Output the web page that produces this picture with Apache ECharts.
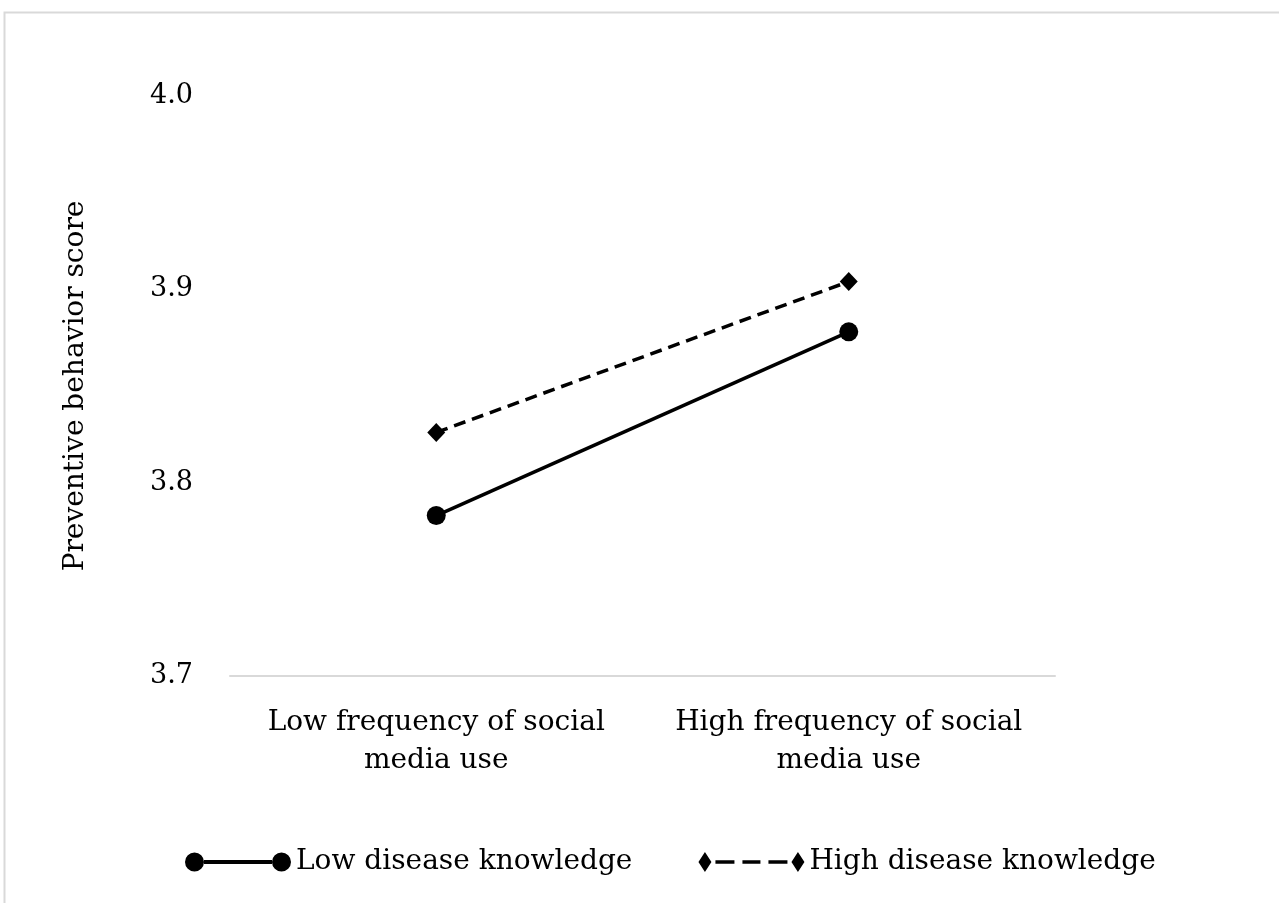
<!DOCTYPE html>
<html>
<head>
    <meta charset="utf-8">
    <title>Simple slope</title>
    <script src="https://cdn.jsdelivr.net/npm/echarts@6/dist/echarts.min.js"></script>
    <style>
        html, body { margin: 0; padding: 0; background: #fff; }
        #main { width: 1279px; height: 903px; }
    </style>
</head>
<body>
    <div id="main"></div>
    <script type="text/javascript">
        // categories on the x axis
        var categories = ['Low frequency of social\nmedia use', 'High frequency of social\nmedia use'];
        // series values
        var lowKnowledge = [3.783, 3.878];
        var highKnowledge = [3.826, 3.904];
        var seriesNames = ['Low disease knowledge', 'High disease knowledge'];
        var yTicks = [3.7, 3.8, 3.9, 4.0];

        var FONT = 'DejaVu Serif';

        // legend icons: marker - line - marker (106 x 20)
        var iconCircles = 'path://M0 10A9.5 9.5 0 1 0 19 10A9.5 9.5 0 1 0 0 10Z' +
            'M87 10A9.5 9.5 0 1 0 106 10A9.5 9.5 0 1 0 87 10Z' +
            'M19 8L87 8L87 12L19 12Z';
        var iconDiamonds = 'path://M0 10L6.5 0L13 10L6.5 20Z M93 10L99.5 0L106 10L99.5 20Z' +
            'M17 8.2L36 8.2L36 11.8L17 11.8Z' +
            'M44 8.2L62 8.2L62 11.8L44 11.8Z' +
            'M70 8.2L89 8.2L89 11.8L70 11.8Z';

        var chart = echarts.init(document.getElementById('main'), null, { renderer: 'canvas' });

        var option = {
            animation: false,
            backgroundColor: '#fff',
            textStyle: { fontFamily: FONT, color: '#000' },
            graphic: [{
                type: 'rect',
                shape: { x: 4.5, y: 12.5, width: 1300, height: 1000 },
                style: { fill: 'none', stroke: '#d9d9d9', lineWidth: 2 },
                silent: true
            }],
            grid: { left: 230, right: 224, top: 96, bottom: 227 },
            xAxis: {
                type: 'category',
                data: categories,
                boundaryGap: true,
                axisLine: { lineStyle: { color: '#d9d9d9', width: 2 } },
                axisTick: { show: false },
                axisLabel: {
                    fontFamily: FONT, fontSize: 28, color: '#000',
                    lineHeight: 38, margin: 28, interval: 0
                }
            },
            yAxis: {
                type: 'value',
                min: yTicks[0],
                max: yTicks[yTicks.length - 1],
                interval: 0.1,
                name: 'Preventive behavior score',
                nameLocation: 'middle',
                nameGap: 140,
                nameTextStyle: { fontFamily: FONT, fontSize: 28, color: '#000' },
                axisLine: { show: false },
                axisTick: { show: false },
                splitLine: { show: false },
                axisLabel: {
                    fontFamily: FONT, fontSize: 27, color: '#000', margin: 37,
                    formatter: function (v) { return v.toFixed(1); }
                }
            },
            legend: {
                bottom: 22,
                left: 180,
                itemGap: 66,
                itemWidth: 106,
                itemHeight: 20,
                textStyle: { fontFamily: FONT, fontSize: 28, color: '#000' },
                data: [
                    { name: seriesNames[0], icon: iconCircles },
                    { name: seriesNames[1], icon: iconDiamonds }
                ]
            },
            series: [{
                name: seriesNames[0],
                type: 'line',
                data: lowKnowledge,
                symbol: 'circle',
                symbolSize: 19,
                itemStyle: { color: '#000' },
                lineStyle: { color: '#000', width: 3.5 }
            }, {
                name: seriesNames[1],
                type: 'line',
                data: highKnowledge,
                symbol: 'diamond',
                symbolSize: [18, 19],
                itemStyle: { color: '#000' },
                lineStyle: { color: '#000', width: 3.5, type: [12, 7] }
            }]
        };

        chart.setOption(option);
    </script>
</body>
</html>
